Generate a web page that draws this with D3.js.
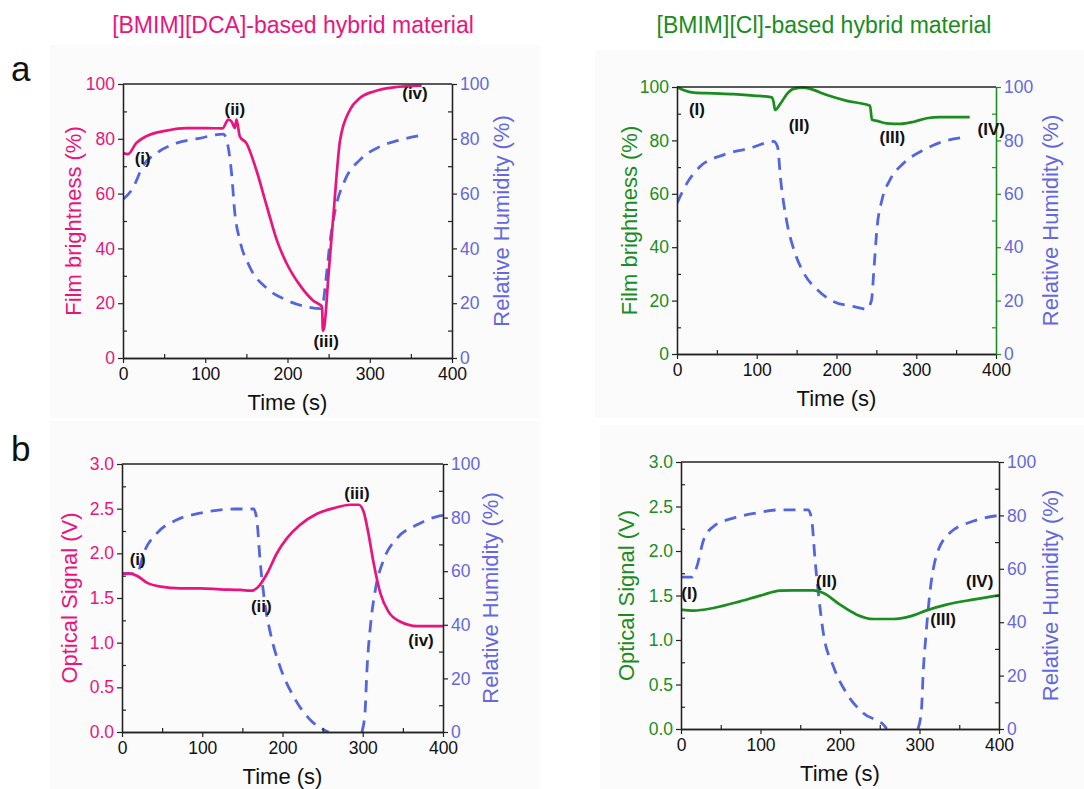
<!DOCTYPE html>
<html>
<head>
<meta charset="utf-8">
<script src="https://cdn.jsdelivr.net/npm/d3@7"></script>
<style>
  html, body { margin: 0; padding: 0; background: #ffffff; }
  svg { display: block; font-family: "Liberation Sans", Arial, sans-serif; }
</style>
</head>
<body>
<svg id="fig" width="1084" height="789"></svg>
<script>
// ---------- data ----------
// Time axis shared by all panels
const timeTicks = [0, 100, 200, 300, 400];
const rhTicks = [0, 20, 40, 60, 80, 100];
const brightTicks = [0, 20, 40, 60, 80, 100];
const signalTicks = [0, 0.5, 1.0, 1.5, 2.0, 2.5, 3.0];

// (a) [BMIM][DCA] film brightness (%) vs time (s)
const dcaBrightness = [
  [0, 74.8], [6, 74.4], [16, 78.4], [28, 80.9], [53, 83.0], [77, 83.9], [101, 83.9],
  [121, 83.8], [128, 87.0], [132, 86.3], [136, 84.0], [138, 87.0], [142, 80.9],
  [150, 78.4], [162, 68.7], [175, 55.2], [187, 43.0], [199, 34.5], [215, 26.6],
  [231, 21.0], [242, 18.7], [243, 10.0], [244.5, 11.0], [250, 30.9], [256, 52.8],
  [264, 79.6], [276, 90.6], [288, 94.9], [305, 97.3], [329, 98.8], [363, 99.4]
];
// (a) humidity during DCA brightness run
const dcaBrightRH = [
  [0, 57.9], [12, 62.0], [24, 69.9], [41, 74.8], [65, 78.4], [93, 80.2], [122, 81.7],
  [126, 79.6], [132, 67.4], [136, 52.8], [142, 43.0], [154, 33.3], [175, 25.4],
  [199, 21.1], [223, 18.7], [240, 18.0], [243, 19.6], [246, 26.6], [252, 43.0],
  [258, 54.0], [270, 65.0], [288, 72.3], [313, 77.2], [337, 79.6], [361, 81.2]
];
// (a) [BMIM][Cl] film brightness (%)
const clBrightness = [
  [0, 100], [8, 98.9], [21, 97.9], [46, 97.6], [71, 97.3], [96, 96.8], [119, 96.1],
  [121, 94.5], [123, 91.4], [130, 93.9], [138, 97.4], [146, 99.3], [159, 99.8],
  [167, 99.3], [188, 97.0], [213, 94.8], [242, 93.0], [244.5, 87.7], [251, 87.3],
  [263, 86.4], [280, 86.2], [297, 87.0], [313, 88.3], [330, 88.7], [367, 88.7]
];
const clBrightRH = [
  [0, 56.5], [12.5, 64.0], [29, 70.2], [58.5, 74.6], [92, 77.1], [121, 79.6], [126, 77.7],
  [130, 65.2], [138, 49.0], [148, 37.8], [159, 30.3], [176, 24.1], [196, 19.7],
  [221, 17.8], [238, 16.8], [244, 20.3], [246.6, 30.3], [251, 47.8], [257, 57.7],
  [267, 65.2], [284, 71.4], [309, 76.4], [334, 79.6], [362, 81.2]
];
// (b) [BMIM][DCA] optical signal (V)
const dcaSignal = [
  [0, 1.769], [8, 1.777], [19, 1.747], [31, 1.672], [48, 1.627], [73, 1.608],
  [98, 1.608], [122.5, 1.597], [147.5, 1.590], [162, 1.582], [170, 1.627],
  [181, 1.777], [193, 2.001], [205.6, 2.170], [222, 2.320], [243, 2.443],
  [264, 2.506], [284.5, 2.544], [295, 2.544], [301, 2.469], [307, 2.226],
  [313.6, 1.889], [322, 1.552], [332, 1.347], [347, 1.234], [367.6, 1.186], [400, 1.186]
];
// humidity runs below the axis between the two null entries (not drawn)
const dcaSignalRH = [
  [0, 59.2], [10, 59.0], [19, 59.2], [27, 66.7], [43.6, 74.2], [68.5, 79.2], [97.6, 81.7],
  [139, 83.2], [164, 83.2], [168, 79.2], [172, 64.2], [178.6, 46.8], [185, 36.8],
  [197, 24.3], [214, 13.1], [235, 4.4], [253, 0.6], [257.5, 0], [258, null], [299, 0],
  [299.5, 0.6], [303, 8.1], [305, 21.8], [309.5, 39.3], [315.7, 53.0], [326, 64.2],
  [342.7, 72.3], [367.6, 77.3], [392.5, 80.4], [400, 80.8]
];
// (b) [BMIM][Cl] optical signal (V)
const clSignal = [
  [0, 1.341], [16, 1.330], [41, 1.360], [74.5, 1.434], [99.6, 1.498], [124.7, 1.554],
  [141.4, 1.558], [166.5, 1.558], [179, 1.528], [200, 1.397], [221, 1.285],
  [242, 1.236], [267, 1.236], [288, 1.266], [309, 1.333], [334, 1.397], [367, 1.453], [400, 1.502]
];
const clSignalRH = [
  [0, 56.9], [13.8, 56.9], [20, 60.9], [28.5, 70.9], [41, 75.9], [66, 79.0], [95, 80.9],
  [124.7, 82.1], [160, 82.1], [164.4, 78.4], [168.6, 63.4], [172.8, 50.9], [179, 36.0],
  [191.6, 23.5], [208, 13.5], [229, 6.0], [256.5, 1.0], [258.6, 0], [259, null], [298, 0],
  [302.5, 7.2], [304.6, 21.0], [308, 34.7], [313, 50.9], [321, 64.7], [338, 73.4],
  [367, 77.8], [400, 80.0]
];

// State markers: [text, time, value on left axis]
const dcaBrightLabels = [["(i)", 24, 72.9], ["(ii)", 136, 90.6], ["(iii)", 247, 5.9], ["(iv)", 355, 96.6]];
const clBrightLabels = [["(I)", 25, 91.4], ["(II)", 153, 85.4], ["(III)", 270, 81.0], ["(IV)", 394, 84.0]];
const dcaSignalLabels = [["(i)", 19.5, 1.93], ["(ii)", 173.6, 1.40], ["(iii)", 292.8, 2.667], ["(iv)", 372.6, 1.02]];
const clSignalLabels = [["(I)", 10.5, 1.528], ["(II)", 183, 1.659], ["(III)", 329.7, 1.228], ["(IV)", 375.7, 1.659]];

// ---------- styling ----------
const PINK = "#e8157c";
const GREEN = "#1b8c1e";
const BLUE = "#5566dc";
const BLUE_TEXT = "#6468dc";
const AXIS = "#222222";

const svg = d3.select("#fig");

// faint panel backgrounds
const backs = [[50, 45, 490, 373], [595, 50, 489, 368], [50, 421, 490, 368], [600, 425, 484, 364]];
svg.selectAll("rect.bg").data(backs).join("rect")
  .attr("class", "bg")
  .attr("x", d => d[0]).attr("y", d => d[1])
  .attr("width", d => d[2]).attr("height", d => d[3])
  .attr("fill", "#fbfbfb");

// headings
svg.append("text").attr("x", 293).attr("y", 33).attr("text-anchor", "middle")
  .attr("font-size", 23).attr("fill", PINK).text("[BMIM][DCA]-based hybrid material");
svg.append("text").attr("x", 824).attr("y", 33).attr("text-anchor", "middle")
  .attr("font-size", 23).attr("fill", GREEN).text("[BMIM][Cl]-based hybrid material");
svg.append("text").attr("x", 11).attr("y", 81).attr("font-size", 35).attr("fill", "#111").text("a");
svg.append("text").attr("x", 11).attr("y", 461).attr("font-size", 35).attr("fill", "#111").text("b");

function drawPanel(cfg) {
  const g = svg.append("g");
  const x = d3.scaleLinear().domain([0, 400]).range([cfg.x0, cfg.x1]);
  const yL = d3.scaleLinear().domain(cfg.leftDomain).range([cfg.y1, cfg.y0]);
  const yR = d3.scaleLinear().domain([0, 100]).range([cfg.y1, cfg.y0]);

  // clip curves to plot box
  const clipId = "clip" + cfg.id;
  svg.append("clipPath").attr("id", clipId).append("rect")
    .attr("x", cfg.x0).attr("y", cfg.y0 - 2)
    .attr("width", cfg.x1 - cfg.x0).attr("height", cfg.y1 - cfg.y0 + 2);

  const curves = g.append("g").attr("clip-path", `url(#${clipId})`);
  curves.append("path").datum(cfg.rh)
    .attr("fill", "none").attr("stroke", BLUE).attr("stroke-width", 2.8)
    .attr("stroke-dasharray", "12,8")
    .attr("d", d3.line().defined(d => d[1] != null)
      .x(d => x(d[0])).y(d => yR(d[1])).curve(d3.curveMonotoneX));
  curves.append("path").datum(cfg.main)
    .attr("fill", "none").attr("stroke", cfg.color).attr("stroke-width", 2.7)
    .attr("stroke-linejoin", "round")
    .attr("d", d3.line().x(d => x(d[0])).y(d => yL(d[1])).curve(d3.curveMonotoneX));

  // top frame line
  g.append("line").attr("x1", cfg.x0).attr("x2", cfg.x1).attr("y1", cfg.y0).attr("y2", cfg.y0)
    .attr("stroke", AXIS).attr("stroke-width", 1.3);

  // bottom axis: major ticks outward, minor inward
  const xAx = g.append("g").attr("transform", `translate(0,${cfg.y1})`)
    .call(d3.axisBottom(x).tickValues(timeTicks).tickSizeInner(5).tickSizeOuter(0).tickPadding(5).tickFormat(d3.format("d")));
  xAx.selectAll("text").attr("font-size", 17.5).attr("fill", "#111");
  xAx.append("g").call(d3.axisTop(x).tickValues([50, 150, 250, 350]).tickSizeInner(4).tickSizeOuter(0).tickFormat(""));

  // left axis
  const lAx = g.append("g").attr("transform", `translate(${cfg.x0},0)`)
    .call(d3.axisLeft(yL).tickValues(cfg.leftTicks).tickSizeInner(5).tickSizeOuter(0).tickPadding(3).tickFormat(cfg.leftFormat));
  lAx.selectAll("text").attr("font-size", 17.5).attr("fill", cfg.color);
  lAx.append("g").call(d3.axisRight(yL).tickValues(cfg.leftMinor).tickSizeInner(4).tickSizeOuter(0).tickFormat(""));

  // right axis
  const rAx = g.append("g").attr("transform", `translate(${cfg.x1},0)`)
    .call(d3.axisRight(yR).tickValues(rhTicks).tickSizeInner(5).tickSizeOuter(0).tickPadding(3).tickFormat(d3.format("d")));
  rAx.selectAll("text").attr("font-size", 17.5).attr("fill", BLUE_TEXT);
  rAx.append("g").call(d3.axisLeft(yR).tickValues([10, 30, 50, 70, 90]).tickSizeInner(4).tickSizeOuter(0).tickFormat(""));

  g.selectAll(".domain").attr("stroke", AXIS).attr("stroke-width", 1.3);
  g.selectAll(".tick line").attr("stroke", AXIS).attr("stroke-width", 1.2);
  if (cfg.rightAxisColor) {
    rAx.selectAll(".domain, .tick line").attr("stroke", cfg.rightAxisColor);
  }

  // axis titles
  const cy = (cfg.y0 + cfg.y1) / 2;
  g.append("text").attr("transform", `translate(${cfg.leftTitleX},${cy}) rotate(-90)`)
    .attr("text-anchor", "middle").attr("dominant-baseline", "central")
    .attr("font-size", 22).attr("fill", cfg.color).text(cfg.leftTitle);
  g.append("text").attr("transform", `translate(${cfg.rightTitleX},${cy}) rotate(-90)`)
    .attr("text-anchor", "middle").attr("dominant-baseline", "central")
    .attr("font-size", 22).attr("fill", BLUE_TEXT).text("Relative Humidity (%)");
  g.append("text").attr("x", (cfg.x0 + cfg.x1) / 2).attr("y", cfg.y1 + 52)
    .attr("text-anchor", "middle").attr("font-size", 22).attr("fill", "#111").text("Time (s)");

  // state markers
  g.selectAll("text.mark").data(cfg.labels).join("text")
    .attr("class", "mark")
    .attr("x", d => x(d[1])).attr("y", d => yL(d[2]))
    .attr("text-anchor", "middle").attr("dominant-baseline", "central")
    .attr("font-size", 17).attr("font-weight", "bold").attr("fill", "#111")
    .text(d => d[0]);
}

drawPanel({
  id: "aL", x0: 123, x1: 452, y0: 84, y1: 358, color: PINK,
  leftDomain: [0, 100], leftTicks: brightTicks, leftMinor: [10, 30, 50, 70, 90], leftFormat: d3.format("d"),
  main: dcaBrightness, rh: dcaBrightRH, labels: dcaBrightLabels,
  leftTitle: "Film brightness (%)", leftTitleX: 73, rightTitleX: 501
});
drawPanel({
  id: "aR", x0: 677, x1: 996, y0: 87, y1: 354, color: GREEN, rightAxisColor: GREEN,
  leftDomain: [0, 100], leftTicks: brightTicks, leftMinor: [10, 30, 50, 70, 90], leftFormat: d3.format("d"),
  main: clBrightness, rh: clBrightRH, labels: clBrightLabels,
  leftTitle: "Film brightness (%)", leftTitleX: 629, rightTitleX: 1050
});
drawPanel({
  id: "bL", x0: 122, x1: 443, y0: 464, y1: 732, color: PINK,
  leftDomain: [0, 3], leftTicks: signalTicks, leftMinor: [0.25, 0.75, 1.25, 1.75, 2.25, 2.75], leftFormat: d3.format(".1f"),
  main: dcaSignal, rh: dcaSignalRH, labels: dcaSignalLabels,
  leftTitle: "Optical Signal (V)", leftTitleX: 69, rightTitleX: 490
});
drawPanel({
  id: "bR", x0: 681, x1: 999, y0: 462, y1: 729, color: GREEN,
  leftDomain: [0, 3], leftTicks: signalTicks, leftMinor: [0.25, 0.75, 1.25, 1.75, 2.25, 2.75], leftFormat: d3.format(".1f"),
  main: clSignal, rh: clSignalRH, labels: clSignalLabels,
  leftTitle: "Optical Signal (V)", leftTitleX: 626, rightTitleX: 1050
});
</script>
</body>
</html>
